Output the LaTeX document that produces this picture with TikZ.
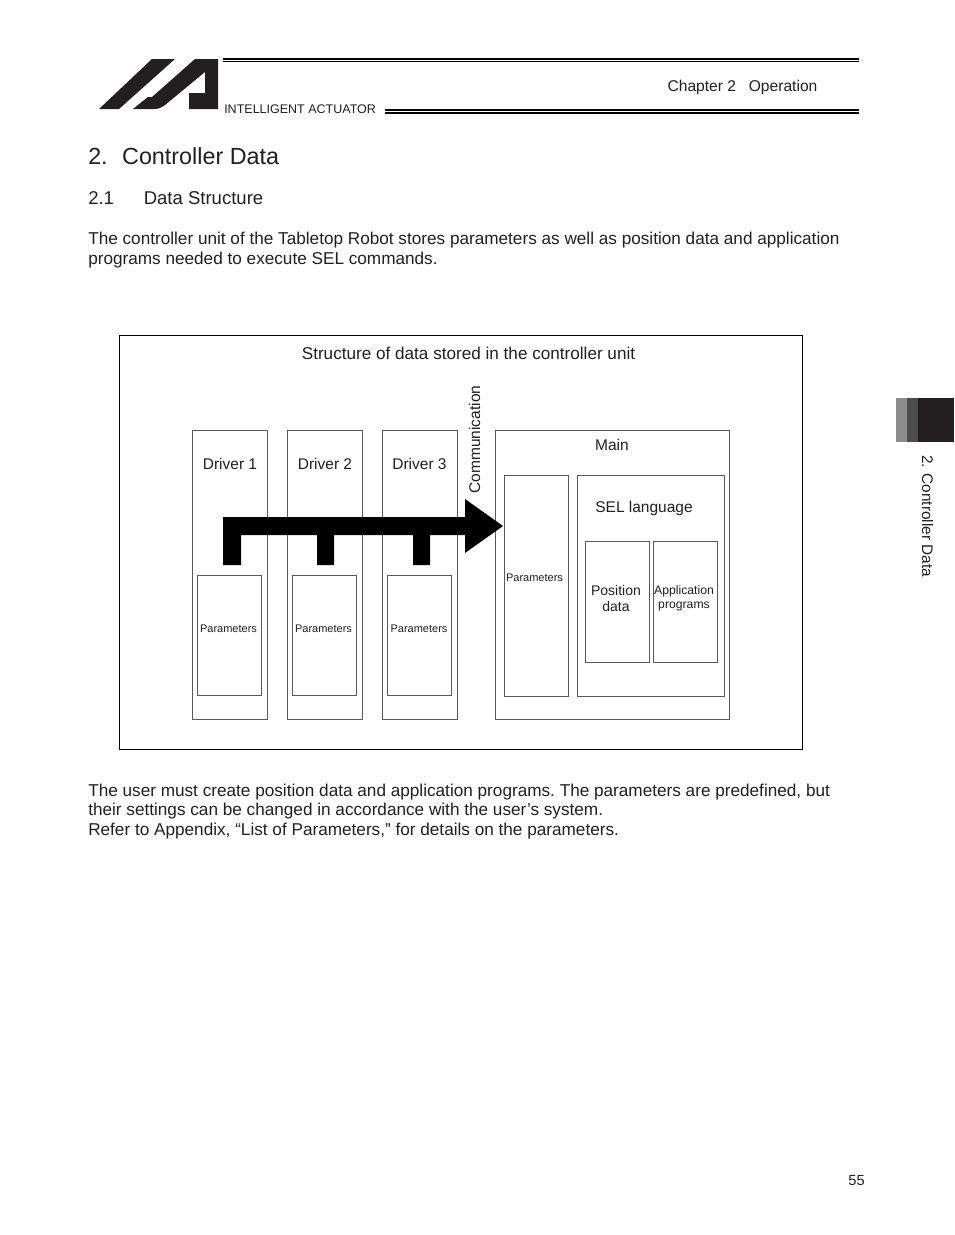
\documentclass[tikz,border=0pt]{standalone}
\usepackage{fontspec}
\setmainfont{Liberation Sans}
\definecolor{ink}{HTML}{231F20}
\tikzset{
  boxthin/.style={draw=black!65,line width=0.6pt,anchor=north west,inner sep=0pt,fill=white},
  txt/.style={inner sep=0pt,text=ink,font=\fontsize{12.88pt}{14.6pt}\selectfont\frenchspacing,align=left},
  lab/.style={inner sep=0pt,text=ink,font=\fontsize{11.62pt}{14pt}\selectfont,align=center},
  tiny/.style={inner sep=0pt,text=ink,font=\fontsize{8.25pt}{10pt}\selectfont,align=center},
  mid/.style={inner sep=0pt,text=ink,font=\fontsize{9.15pt}{10.6pt}\selectfont,align=center}
}
\newcommand{\bx}[5]{\node[boxthin,minimum width={#4*0.75pt},minimum height={#5*0.75pt}] (#1) at (#2,#3) {};}
\begin{document}
\begin{tikzpicture}[x=0.75pt,y=-0.75pt]
\useasboundingbox (0,0) rectangle (954,1235);
% logo
\fill[ink] (152,59) -- (175,59) -- (119,109) -- (99,109) -- cycle;
\fill[ink] (195,59) -- (218,59) -- (218,109) -- (189,109) -- (189,93) -- (205,93) -- (205,72)
  -- (165,105) .. controls (161,108) and (158,109) .. (154,109) -- (133,109) -- (148,97) -- (152,97) -- cycle;
% header rules
\fill[black] (223,57.5) rectangle (859,59.5);
\fill[black] (223,60.8) rectangle (859,61.6);
\fill[black] (385,109.3) rectangle (859,111);
\fill[black] (385,112.2) rectangle (859,113.6);
\node[inner sep=0pt,anchor=base west,text=ink,font=\fontsize{9.38pt}{11pt}\selectfont] (brand) at (224,113) {INTELLIGENT ACTUATOR};
\node[inner sep=0pt,anchor=base west,text=ink,font=\fontsize{11.7pt}{13pt}\selectfont] (chapter) at (667.3,91) {Chapter 2\hspace{0.82em}Operation};
% headings
\node[inner sep=0pt,anchor=base west,text=ink,font=\fontsize{17.5pt}{20pt}\selectfont] (h1) at (88,164) {2.\hspace{0.62em}Controller Data};
\node[inner sep=0pt,anchor=base west,text=ink,font=\fontsize{13.9pt}{15pt}\selectfont] (h2a) at (88,204) {2.1};
\node[inner sep=0pt,anchor=base west,text=ink,font=\fontsize{13.9pt}{15pt}\selectfont] (h2b) at (143.5,204) {Data Structure};
% body
\node[txt,anchor=base west] (p1a) at (88,244) {The controller unit of the Tabletop Robot stores parameters as well as position data and application};
\node[txt,anchor=base west] (p1b) at (88,264) {programs needed to execute SEL commands.};
\node[txt,anchor=base west] (p2a) at (88,796) {The user must create position data and application programs. The parameters are predefined, but};
\node[txt,anchor=base west] (p2b) at (88,815.5) {their settings can be changed in accordance with the user’s system.};
\node[txt,anchor=base west] (p2c) at (88,835) {Refer to Appendix, “List of Parameters,” for details on the parameters.};
% diagram
\node[draw=black,line width=1.1pt,anchor=north west,inner sep=0pt,minimum width={683*0.75pt},minimum height={413.5*0.75pt}] (outer) at (119,335) {};
\bx{d1}{191.7}{429.6}{75}{289.4}
\bx{d2}{286.7}{429.6}{75}{289.4}
\bx{d3}{381.7}{429.6}{75}{289.4}
\bx{main}{495.2}{429.6}{234}{289.4}
\bx{p1}{196.7}{574.6}{64}{120.4}
\bx{p2}{291.7}{574.6}{64}{120.4}
\bx{p3}{386.7}{574.6}{64}{120.4}
\bx{pm}{503.7}{475}{64}{221}
\bx{sel}{576.7}{475}{147}{221}
\bx{pos}{584.7}{541.3}{64}{120.5}
\bx{app}{652.7}{541.3}{64}{120.5}
% bus arrow
\fill[black] (223,517) -- (465,517) -- (465,499) -- (503,526) -- (465,553) -- (465,535)
  -- (430,535) -- (430,565) -- (413,565) -- (413,535) -- (334,535) -- (334,565) -- (317,565)
  -- (317,535) -- (241,535) -- (241,565) -- (223,565) -- cycle;
% labels
\node[inner sep=0pt,text=ink,anchor=base,font=\fontsize{12.85pt}{14pt}\selectfont] (title) at (468.5,359.5) {Structure of data stored in the controller unit};
\node[lab,anchor=base] (t1) at (230,469) {Driver 1};
\node[lab,anchor=base] (t2) at (325,469) {Driver 2};
\node[lab,anchor=base] (t3) at (419.5,469) {Driver 3};
\node[lab,anchor=base] (tm) at (612,450) {Main};
\node[lab,anchor=base] (ts) at (644,512) {SEL language};
\node[lab,anchor=base,rotate=90] (comm) at (480,439.5) {Communication};
\node[tiny,anchor=base] (q1) at (228.5,632) {Parameters};
\node[tiny,anchor=base] (q2) at (323.5,632) {Parameters};
\node[tiny,anchor=base] (q3) at (419,632) {Parameters};
\node[tiny,anchor=base] (qm) at (534.5,581) {Parameters};
\node[inner sep=0pt,text=ink,align=center,font=\fontsize{10.5pt}{12.2pt}\selectfont] (tp) at (616,598.5) {Position\\data};
\node[mid] (ta) at (684,598.3) {Application\\programs};
% tab
\fill[black!45] (896,398) rectangle (907,442);
\fill[black!70] (907,398) rectangle (918,442);
\fill[ink] (918,398) rectangle (954,442);
\node[inner sep=0pt,anchor=base west,rotate=-90,text=ink,font=\fontsize{11.5pt}{13pt}\selectfont] (side) at (922,455) {2. Controller Data};
\node[inner sep=0pt,anchor=base east,text=ink,font=\fontsize{11pt}{12pt}\selectfont] (page) at (865,1185.5) {55};
\end{tikzpicture}
\end{document}
